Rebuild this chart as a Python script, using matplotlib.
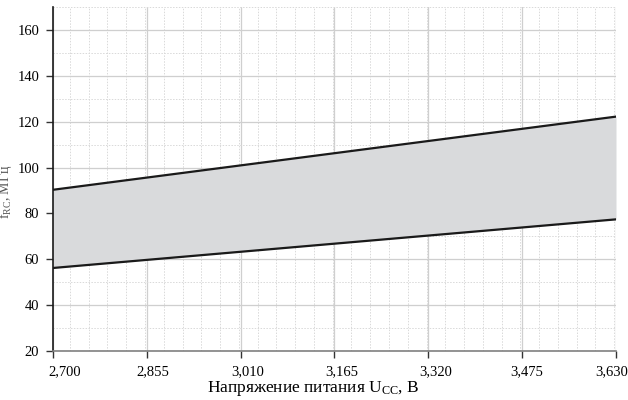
import matplotlib
matplotlib.use("Agg")
import matplotlib.pyplot as plt
from matplotlib.ticker import MultipleLocator, FixedLocator
from matplotlib.transforms import ScaledTranslation

plt.rcParams['font.family'] = ['Liberation Serif', 'DejaVu Serif']
plt.rcParams['mathtext.fontset'] = 'custom'
plt.rcParams['mathtext.rm'] = 'Liberation Serif'
plt.rcParams['mathtext.it'] = 'Liberation Serif:italic'

voltage = [2.700, 3.630]
upper = [90.3, 122.2]
lower = [56.2, 77.4]
xticks = [2.700, 2.855, 3.010, 3.165, 3.320, 3.475, 3.630]
xticklabels = ['2,700', '2,855', '3,010', '3,165', '3,320', '3,475', '3,630']
yticks = [20, 40, 60, 80, 100, 120, 140, 160]

fig = plt.figure(figsize=(6.28, 4.0), dpi=100)
ax = fig.add_axes([53/628, 49/400, 563/628, 344/400])

ax.fill_between(voltage, lower, upper, color='#d9dadc', zorder=1, linewidth=0)
ax.plot(voltage, upper, color='#1a1a1a', lw=1.6, zorder=3)
ax.plot(voltage, lower, color='#1a1a1a', lw=1.6, zorder=3)

ax.set_xlim(2.700, 3.630)
ax.set_ylim(20, 170)
ax.xaxis.set_major_locator(FixedLocator(xticks))
ax.set_xticklabels(xticklabels)
ax.xaxis.set_minor_locator(MultipleLocator(0.031))
ax.yaxis.set_major_locator(FixedLocator(yticks))
ax.yaxis.set_minor_locator(MultipleLocator(10))

ax.grid(which='major', color='#cfcfcf', lw=0.9, ls='-', zorder=0)
ax.grid(which='minor', color='#d9d9d9', lw=0.7, ls=(0, (1.5, 1.5)), zorder=0)
ax.set_axisbelow(True)

for s in ['top', 'right']:
    ax.spines[s].set_visible(False)
ax.spines['left'].set_color('#1a1a1a')
ax.spines['left'].set_linewidth(1.2)
ax.spines['bottom'].set_color('#808080')
ax.spines['bottom'].set_linewidth(1.2)

ax.tick_params(axis='both', which='major', labelsize=10.5, length=5, width=1.0, color='#333333')
ax.tick_params(axis='y', pad=5)
ax.tick_params(axis='x', pad=5)
ax.tick_params(which='minor', length=0)

offsets_px = [12, 6, 7, 7, 7, 5, -4]
for lab, off in zip(ax.get_xticklabels(), offsets_px):
    lab.set_transform(lab.get_transform() + ScaledTranslation(off/100, 0, fig.dpi_scale_trans))

fig.text(313/628, 12/400, 'Напряжение питания U$_{\\mathrm{CC}}$, В', fontsize=12.5,
         ha='center', va='center')
fig.text(5/628, 208/400, 'f$_{\\mathrm{RC}}$, МГц', rotation=90, fontsize=10,
         ha='center', va='center', color='#555555')

fig.savefig('out.png', dpi=100)
